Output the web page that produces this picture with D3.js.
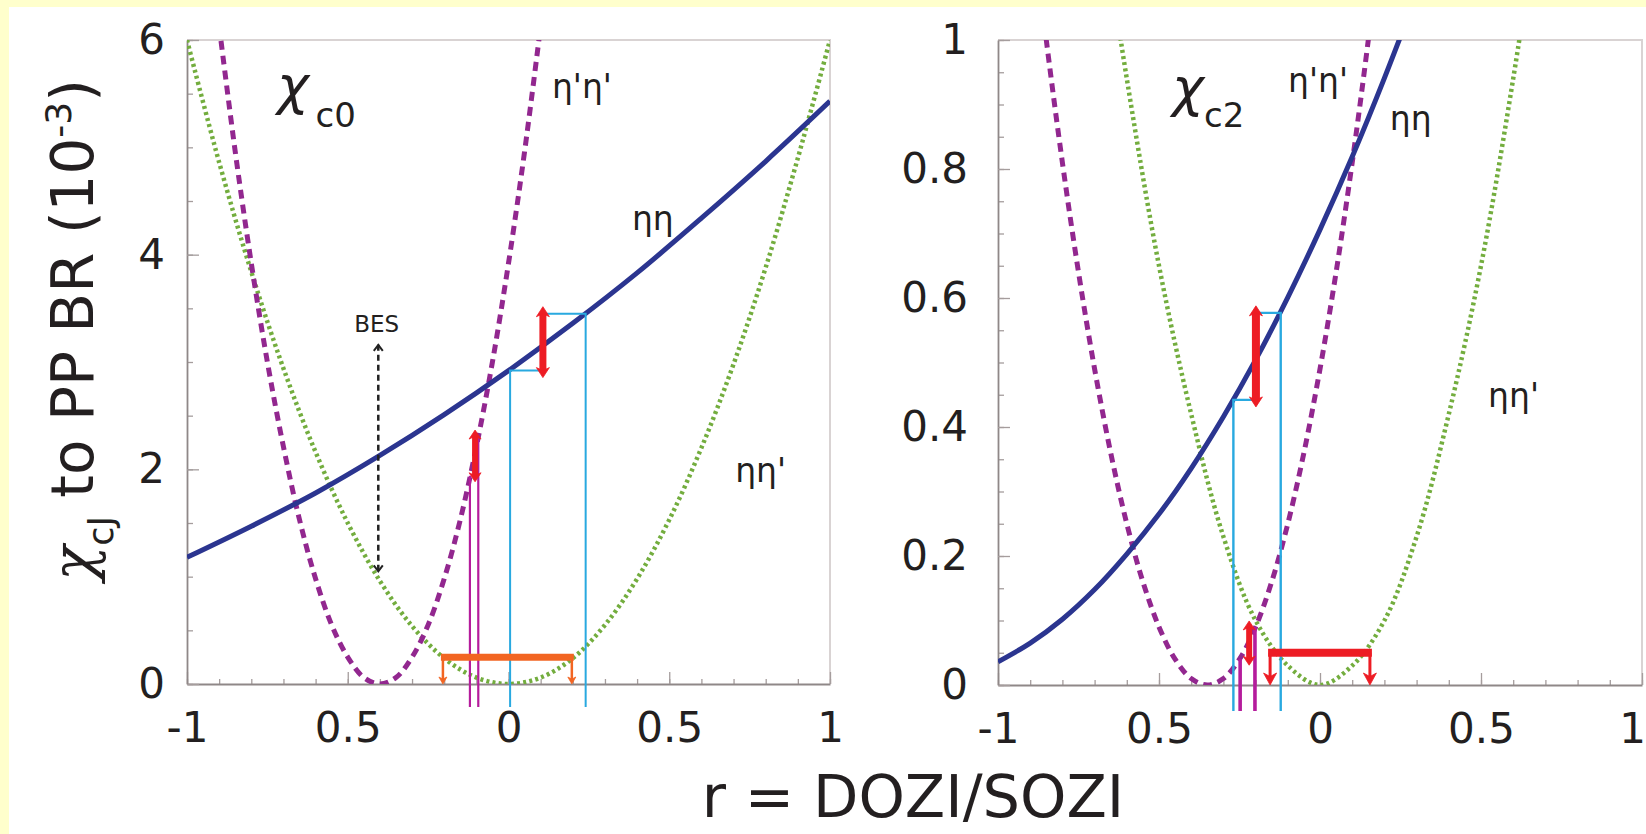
<!DOCTYPE html>
<html>
<head>
<meta charset="utf-8">
<script src="https://cdn.jsdelivr.net/npm/d3@7"></script>
<style>
  html, body { margin: 0; padding: 0; background: #fff; }
  svg { display: block; }
  text { font-family: "DejaVu Sans", Verdana, sans-serif; fill: #231f20; }
</style>
</head>
<body>
<svg id="chart" width="1646" height="834"></svg>
<script>
// ---------------- values ----------------
const rMajor = [-1, -0.5, 0, 0.5, 1];
const rMajorLabels = ["-1", "0.5", "0", "0.5", "1"];
const rMinor = [-1, -0.9, -0.8, -0.7, -0.6, -0.5, -0.4, -0.3, -0.2, -0.1, 0, 0.1, 0.2, 0.3, 0.4, 0.5, 0.6, 0.7, 0.8, 0.9, 1];

const c0Major = [0, 2, 4, 6];
const c0Labels = ["0", "2", "4", "6"];
const c0Minor = [0, 0.5, 1, 1.5, 2, 2.5, 3, 3.5, 4, 4.5, 5, 5.5, 6];
const c2Major = [0, 0.2, 0.4, 0.6, 0.8, 1];
const c2Labels = ["0", "0.2", "0.4", "0.6", "0.8", "1"];
const c2Minor = [0, 0.05, 0.1, 0.15, 0.2, 0.25, 0.3, 0.35, 0.4, 0.45, 0.5, 0.55, 0.6, 0.65, 0.7, 0.75, 0.8, 0.85, 0.9, 0.95, 1];

// chi_c0 curves
const c0EtaEtaR = [-1, -0.8, -0.6, -0.4, -0.2, 0, 0.2, 0.4, 0.6, 0.8, 1];
const c0EtaEta  = [1.18, 1.47, 1.78, 2.13, 2.51, 2.92, 3.36, 3.83, 4.34, 4.87, 5.43];
const c0EtapEtapR = [-0.9, -0.85, -0.8, -0.75, -0.7, -0.65, -0.6, -0.55, -0.5, -0.45, -0.4, -0.35, -0.3, -0.25, -0.2, -0.15, -0.1, -0.05, 0, 0.05, 0.1];
const c0EtapEtap  = [6.13, 4.96, 3.92, 3.00, 2.21, 1.53, 0.98, 0.55, 0.25, 0.06, 0, 0.06, 0.25, 0.55, 0.98, 1.53, 2.21, 3.00, 3.92, 4.96, 6.13];
const c0EtaEtapR = [-1, -0.9, -0.8, -0.7, -0.6, -0.5, -0.4, -0.3, -0.2, -0.1, 0, 0.1, 0.2, 0.3, 0.4, 0.5, 0.6, 0.7, 0.8, 0.9, 1];
const c0EtaEtap  = [6.0, 4.86, 3.84, 2.94, 2.16, 1.50, 0.96, 0.54, 0.24, 0.06, 0, 0.06, 0.24, 0.55, 0.98, 1.53, 2.2, 2.98, 3.88, 4.9, 6.0];

// chi_c0 measurement bands
const c0EtaEtaBandR = [0.005, 0.107, 0.24];     // low edge, arrow, high edge
const c0EtaEtaBandBR = [2.92, 3.45];
const c0EtapBandR = [-0.12, -0.104, -0.094];     // magenta, arrow, magenta
const c0EtapBandBR = [1.94, 2.31];
const c0EtaEtapBandR = [-0.204, 0.197];
const c0EtaEtapBandBR = [0.25];
const c0BesR = [-0.405];
const c0BesBR = [1.05, 3.16];

// chi_c2 curves
const c2EtaEtaR = [-1, -0.9, -0.8, -0.7, -0.6, -0.5, -0.4, -0.3, -0.2, -0.1, 0, 0.1, 0.2, 0.3];
const c2EtaEta  = [0.036, 0.065, 0.102, 0.148, 0.203, 0.265, 0.336, 0.416, 0.504, 0.601, 0.706, 0.819, 0.941, 1.071];
const c2EtapEtapR = [-0.9, -0.85, -0.8, -0.75, -0.7, -0.65, -0.6, -0.55, -0.5, -0.45, -0.4, -0.35, -0.3, -0.25, -0.2, -0.15, -0.1, -0.05, 0, 0.05, 0.1, 0.15, 0.2];
const c2EtapEtap  = [1.21, 1.0, 0.81, 0.64, 0.49, 0.36, 0.25, 0.16, 0.09, 0.04, 0.01, 0, 0.01, 0.04, 0.09, 0.16, 0.25, 0.36, 0.49, 0.64, 0.81, 1.0, 1.21];
const c2EtaEtapR = [-0.7, -0.6, -0.5, -0.4, -0.3, -0.2, -0.1, 0, 0.1, 0.2, 0.3, 0.4, 0.5, 0.6, 0.7];
const c2EtaEtap  = [1.27, 0.94, 0.65, 0.42, 0.23, 0.10, 0.03, 0, 0.03, 0.10, 0.23, 0.42, 0.65, 0.94, 1.27];

// chi_c2 measurement bands
const c2EtaEtaBandR = [-0.269, -0.199, -0.122];
const c2EtaEtaBandBR = [0.442, 0.577];
const c2EtapBandR = [-0.248, -0.22, -0.202];
const c2EtapBandBR = [0.04, 0.09];
const c2EtaEtapBandR = [-0.155, 0.155];
const c2EtaEtapBandBR = [0.05];

const zip = (xs, ys) => xs.map((x, i) => [x, ys[i]]);

const svg = d3.select('#chart');
svg.append('rect').attr('width', 1646).attr('height', 834).attr('fill', '#fff');
svg.append('rect').attr('width', 1646).attr('height', 7).attr('fill', '#ffffcc');
svg.append('rect').attr('width', 9).attr('height', 834).attr('fill', '#ffffcc');
const defs = svg.append('defs');

// vertical arrow, pixel coords; heads: {top, bottom}
function vArrow(g, x, yTop, yBot, o) {
  const hl = o.headLen, hw = o.headWidth, inset = o.open ? 0 : hl * 0.6;
  g.append('line')
      .attr('x1', x).attr('x2', x)
      .attr('y1', o.top ? yTop + inset : yTop)
      .attr('y2', o.bottom ? yBot - inset : yBot)
      .attr('stroke', o.color)
      .attr('stroke-width', o.width)
      .attr('stroke-dasharray', o.dash || null);
  const head = (ty, dir) => {
    const by = ty + dir * hl;
    if (o.open) return `M${x - hw / 2},${by}L${x},${ty}L${x + hw / 2},${by}`;
    return `M${x},${ty}L${x - hw / 2},${by}L${x},${ty + dir * hl * 0.7}L${x + hw / 2},${by}Z`;
  };
  const drawHead = (d) => g.append('path').attr('d', d)
      .attr('fill', o.open ? 'none' : o.color)
      .attr('stroke', o.color)
      .attr('stroke-width', o.open ? 2 : 0.8)
      .attr('stroke-linejoin', 'miter');
  if (o.top) drawHead(head(yTop, 1));
  if (o.bottom) drawHead(head(yBot, -1));
}

class PP_Panel {

    constructor(_config, _data) {
      this.config = _config;
      this.data = _data;
      this.initVis();
      this.renderVis();
    }

    initVis() {
      let vis = this;
      const c = vis.config;

      vis.width = c.width;
      vis.height = c.height;

      vis.xScale = d3.scaleLinear()
          .domain([-1, 1])
          .range([0, vis.width]);

      vis.yScale = d3.scaleLinear()
          .domain([0, c.yMax])
          .range([vis.height, 0]);

      vis.chart = svg.append('g')
          .attr('transform', `translate(${c.left},${c.top})`);

      defs.append('clipPath').attr('id', c.id + '-clip')
        .append('rect').attr('width', vis.width).attr('height', vis.height);

      // light frame on top and right
      vis.chart.append('path')
          .attr('d', `M0,0H${vis.width}V${vis.height}`)
          .attr('fill', 'none')
          .attr('stroke', '#d9d3d3')
          .attr('stroke-width', 2);

      // minor ticks (inside)
      const minorX = d3.axisBottom(vis.xScale).tickValues(rMinor).tickSize(-5).tickFormat('');
      const minorY = d3.axisLeft(vis.yScale).tickValues(c.yMinor).tickSize(-6).tickFormat('');
      vis.chart.append('g').attr('transform', `translate(0,${vis.height})`).call(minorX)
          .call(g => g.select('.domain').remove());
      vis.chart.append('g').call(minorY)
          .call(g => g.select('.domain').remove());

      // major ticks + labels
      vis.xAxis = d3.axisBottom(vis.xScale)
          .tickValues(rMajor)
          .tickSize(-12)
          .tickSizeOuter(0)
          .tickPadding(28)
          .tickFormat((d, i) => rMajorLabels[i]);
      vis.yAxis = d3.axisLeft(vis.yScale)
          .tickValues(c.yMajor)
          .tickSize(-12)
          .tickSizeOuter(0)
          .tickPadding(c.yPad)
          .tickFormat((d, i) => c.yLabels[i]);

      vis.xAxisG = vis.chart.append('g')
          .attr('transform', `translate(0,${vis.height})`)
          .call(vis.xAxis);
      vis.yAxisG = vis.chart.append('g')
          .call(vis.yAxis);

      vis.chart.selectAll('.tick line').attr('stroke', '#a59d9d').attr('stroke-width', 1.3);
      vis.chart.selectAll('.domain').attr('stroke', '#8f8888').attr('stroke-width', 1.8);
      [vis.xAxisG, vis.yAxisG].forEach(g => g.selectAll('text')
          .attr('font-size', 42)
          .attr('font-family', '"DejaVu Sans", Verdana, sans-serif')
          .attr('fill', '#231f20'));
      // last label sits on the page edge in the right panel
      vis.xAxisG.selectAll('.tick text').filter(d => d === 1).attr('dx', c.lastDx || 0);
    }

    renderVis() {
      let vis = this;
      const c = vis.config, d = vis.data;
      const x = vis.xScale, y = vis.yScale;

      const line = d3.line()
          .x(p => x(p[0]))
          .y(p => y(p[1]))
          .curve(d3.curveCatmullRom.alpha(0.5));

      const curves = vis.chart.append('g').attr('clip-path', `url(#${c.id}-clip)`);
      curves.append('path').attr('d', line(d.etaEtap))
          .attr('fill', 'none').attr('stroke', '#73ad3e').attr('stroke-width', 4.5)
          .attr('stroke-dasharray', '3,3.2');
      curves.append('path').attr('d', line(d.etapEtap))
          .attr('fill', 'none').attr('stroke', '#92278f').attr('stroke-width', 5)
          .attr('stroke-dasharray', '9,6');
      curves.append('path').attr('d', line(d.etaEta))
          .attr('fill', 'none').attr('stroke', '#2b3590').attr('stroke-width', 5);

      const m = vis.chart.append('g');
      const yDrop = y(0) + c.drop;

      // BES arrow
      if (d.besR) {
        vArrow(m, x(d.besR[0]), y(d.besBR[1]), y(d.besBR[0]),
          {top: true, bottom: true, open: true, color: '#222', width: 2.5, dash: '6,4', headLen: 6, headWidth: 9});
        m.append('text').attr('x', x(c.besLabel[0])).attr('y', y(c.besLabel[1]))
            .attr('text-anchor', 'middle').attr('font-size', 23).text('BES');
      }

      // eta eta band (light blue box + red arrow)
      const [bl, ba, bh] = d.eeBandR, [vl, vh] = d.eeBandBR;
      const pathB = (s) => m.append('path').attr('d', s)
          .attr('fill', 'none').attr('stroke', '#29a9e0').attr('stroke-width', c.blueW);
      pathB(`M${x(bl)},${yDrop}V${y(vl)}H${x(ba)}`);
      pathB(`M${x(ba)},${y(vh)}H${x(bh)}V${yDrop}`);

      // eta' eta' band (magenta lines + small red arrow)
      const [pl, pa, ph] = d.ppBandR, [ql, qh] = d.ppBandBR;
      m.append('path').attr('d', `M${x(pl)},${yDrop}V${y(ql)}`)
          .attr('fill', 'none').attr('stroke', '#b51c9c').attr('stroke-width', c.magW);
      m.append('path').attr('d', `M${x(ph)},${yDrop}V${y(qh)}`)
          .attr('fill', 'none').attr('stroke', '#b51c9c').attr('stroke-width', c.magW);

      vArrow(m, x(pa), y(qh) - 6, y(ql) + 6,
        {top: true, bottom: true, color: '#ed1c24', width: 6, headLen: 9, headWidth: 12});
      vArrow(m, x(ba), y(vh) - 7, y(vl) + 7,
        {top: true, bottom: true, color: '#ed1c24', width: c.redW, headLen: 10, headWidth: 13});

      // eta eta' band (horizontal bar + down arrows)
      const [el, eh] = d.epBandR, ev = d.epBandBR[0];
      vArrow(m, x(el), y(ev), y(0),
        {bottom: true, color: c.barColor, width: c.downW, headLen: c.downHead[0], headWidth: c.downHead[1]});
      vArrow(m, x(eh), y(ev), y(0),
        {bottom: true, color: c.barColor, width: c.downW, headLen: c.downHead[0], headWidth: c.downHead[1]});
      m.append('line')
          .attr('x1', x(el) - 2).attr('x2', x(eh) + 2)
          .attr('y1', y(ev)).attr('y2', y(ev))
          .attr('stroke', c.barColor).attr('stroke-width', c.barW);

      // labels
      const lab = vis.chart.append('g');
      lab.append('text').attr('x', x(c.chi[0])).attr('y', y(c.chi[1]))
          .attr('font-family', '"DejaVu Serif", serif').attr('font-style', 'italic')
          .attr('font-size', 54).text('χ');
      lab.append('text').attr('x', x(c.chiSub[0])).attr('y', y(c.chiSub[1]))
          .attr('font-size', 34).text(c.sub);
      c.curveLabels.forEach(l => lab.append('text')
          .attr('x', x(l.at[0])).attr('y', y(l.at[1]))
          .attr('font-size', 33).text(l.text));
    }
}

new PP_Panel({
  id: 'c0', left: 187, top: 40, width: 643, height: 644,
  yMax: 6, yMajor: c0Major, yLabels: c0Labels, yMinor: c0Minor, yPad: 22,
  drop: 23, blueW: 2, magW: 2.2, redW: 7,
  barColor: '#f26522', barW: 7, downW: 2.5, downHead: [7, 8],
  chi: [-0.72, 5.4], chiSub: [-0.6, 5.19], sub: 'c0',
  besLabel: [-0.41, 3.28],
  curveLabels: [
    {text: "η'η'", at: [0.135, 5.46]},
    {text: 'ηη', at: [0.384, 4.23]},
    {text: "ηη'", at: [0.705, 1.88]}
  ]
}, {
  etaEta: zip(c0EtaEtaR, c0EtaEta),
  etapEtap: zip(c0EtapEtapR, c0EtapEtap),
  etaEtap: zip(c0EtaEtapR, c0EtaEtap),
  eeBandR: c0EtaEtaBandR, eeBandBR: c0EtaEtaBandBR,
  ppBandR: c0EtapBandR, ppBandBR: c0EtapBandBR,
  epBandR: c0EtaEtapBandR, epBandBR: c0EtaEtapBandBR,
  besR: c0BesR, besBR: c0BesBR
});

new PP_Panel({
  id: 'c2', left: 998, top: 40, width: 644, height: 645,
  yMax: 1, yMajor: c2Major, yLabels: c2Labels, yMinor: c2Minor, yPad: 30,
  drop: 26, blueW: 2.4, magW: 3.6, redW: 8, lastDx: -10,
  barColor: '#ed1c24', barW: 8, downW: 3, downHead: [12, 13],
  chi: [-0.46, 0.898], chiSub: [-0.36, 0.865], sub: 'c2',
  curveLabels: [
    {text: "η'η'", at: [-0.099, 0.919]},
    {text: 'ηη', at: [0.217, 0.86]},
    {text: "ηη'", at: [0.522, 0.431]}
  ]
}, {
  etaEta: zip(c2EtaEtaR, c2EtaEta),
  etapEtap: zip(c2EtapEtapR, c2EtapEtap),
  etaEtap: zip(c2EtaEtapR, c2EtaEtap),
  eeBandR: c2EtaEtaBandR, eeBandBR: c2EtaEtaBandBR,
  ppBandR: c2EtapBandR, ppBandBR: c2EtapBandBR,
  epBandR: c2EtaEtapBandR, epBandBR: c2EtaEtapBandBR
});

// axis titles
const yTitle = svg.append('text')
    .attr('transform', 'translate(93,330) rotate(-90)')
    .attr('text-anchor', 'middle')
    .attr('font-size', 58);
yTitle.append('tspan').attr('font-family', '"DejaVu Serif", serif').attr('font-style', 'italic').text('χ');
yTitle.append('tspan').attr('font-size', 35).attr('dy', 20).text('cJ');
yTitle.append('tspan').attr('dy', -20).text(' to PP BR (10');
yTitle.append('tspan').attr('font-size', 36).attr('dy', -22).text('-3');
yTitle.append('tspan').attr('dy', 22).text(')');

svg.append('text')
    .attr('x', 913).attr('y', 817)
    .attr('text-anchor', 'middle')
    .attr('font-size', 59)
    .text('r = DOZI/SOZI');
</script>
</body>
</html>
